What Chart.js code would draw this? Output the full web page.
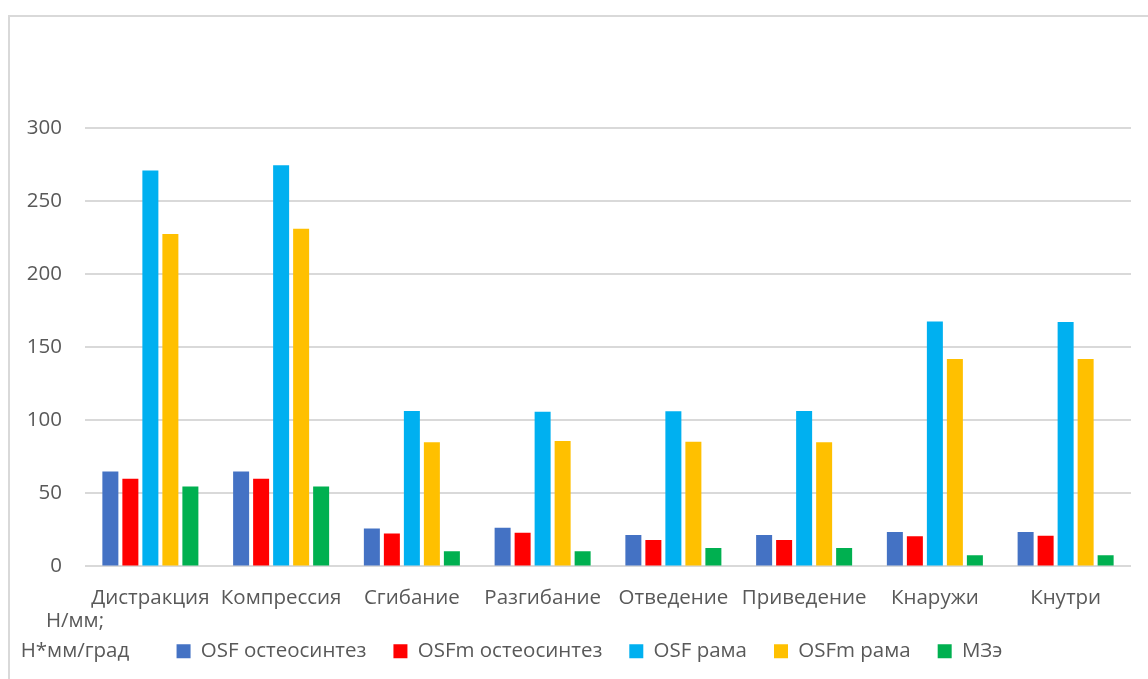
<!DOCTYPE html>
<html>
<head>
<meta charset="utf-8">
<script src="https://cdn.jsdelivr.net/npm/chart.js@4/dist/chart.umd.min.js"></script>
<style>
  html, body { margin: 0; padding: 0; background: #fff; }
  #wrap { position: relative; width: 1148px; height: 679px; overflow: hidden; }
  #frame { position: absolute; left: 8px; top: 15px; width: 1200px; height: 700px;
           border-left: 2px solid #d9d9d9; border-top: 2px solid #d9d9d9; box-sizing: border-box; }
  canvas { position: absolute; left: 0; top: 0; }
  .unit { position: absolute; font-family: "Open Sans", sans-serif; font-size: 20.5px; color: #595959;
          width: 150px; text-align: center; left: 0; }
</style>
</head>
<body>
<div id="wrap">
  <div id="frame"></div>
  <canvas id="chart" width="1148" height="679"></canvas>
  <div class="unit" style="top:605px">Н/мм;</div>
  <div class="unit" style="top:635px">Н*мм/град</div>
</div>
<script>
// ================= Data =================
const categories = ['Дистракция', 'Компрессия', 'Сгибание', 'Разгибание', 'Отведение', 'Приведение', 'Кнаружи', 'Кнутри'];
const seriesNames = ['OSF остеосинтез', 'OSFm остеосинтез', 'OSF рама', 'OSFm рама', 'МЗэ'];
const seriesColors = ['#4472c4', '#ff0000', '#00b0f0', '#ffc000', '#00b050'];

const osfOsteo  = [65, 65, 26, 26.5, 21.5, 21.5, 23.5, 23.5];
const osfmOsteo = [60, 60, 22.5, 23, 18, 18, 20.7, 21];
const osfFrame  = [271, 274.5, 106.3, 105.8, 106.2, 106.4, 167.6, 167.2];
const osfmFrame = [227.5, 231, 85, 85.8, 85.3, 85, 142, 142];
const mze       = [54.7, 54.7, 10.4, 10.4, 12.6, 12.6, 7.6, 7.6];

const yTicks = [0, 50, 100, 150, 200, 250, 300];

const FONT = '"Open Sans", sans-serif';
const FONT_SIZE = 20.5;
const TEXT = '#595959';

// nudge the legend like the original (right + up)
const legendShift = {
    id: 'legendShift',
    afterLayout(chart) {
        const lg = chart.legend;
        lg.left += 24;
        lg.right += 24;
        lg.top -= 15;
        lg.bottom -= 15;
    }
};

// ================= Chart =================
const allValues = [osfOsteo, osfmOsteo, osfFrame, osfmFrame, mze];
const datasets = allValues.map((vals, i) => ({
    label: seriesNames[i],
    data: vals,
    backgroundColor: seriesColors[i],
    borderWidth: 0,
    categoryPercentage: 0.765,
    barPercentage: 0.8
}));

new Chart(document.getElementById('chart').getContext('2d'), {
    type: 'bar',
    data: { labels: categories, datasets },
    plugins: [legendShift],
    options: {
        responsive: false,
        animation: false,
        layout: { padding: { top: 128, right: 17, left: 0, bottom: -7.5 } },
        plugins: {
            tooltip: { enabled: false },
            legend: {
                position: 'bottom',
                labels: {
                    font: { family: FONT, size: FONT_SIZE },
                    color: TEXT,
                    boxWidth: 14,
                    boxHeight: 14,
                    padding: 27
                }
            }
        },
        scales: {
            x: {
                grid: { display: false, drawTicks: false },
                border: { display: false },
                ticks: { font: { family: FONT, size: FONT_SIZE }, color: TEXT, padding: 19, maxRotation: 0, autoSkip: false }
            },
            y: {
                min: 0,
                max: 300,
                afterFit: s => { s.width = 85; },
                afterBuildTicks: s => { s.ticks = yTicks.map(v => ({ value: v })); },
                grid: { color: '#d9d9d9', lineWidth: 2, drawTicks: false },
                border: { display: false },
                ticks: { font: { family: FONT, size: FONT_SIZE }, color: TEXT, padding: 23 }
            }
        }
    }
});
</script>
</body>
</html>
